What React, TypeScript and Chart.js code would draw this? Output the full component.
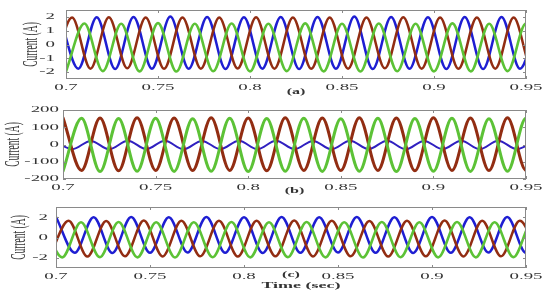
import { useEffect, useRef } from 'react';
import { Chart, registerables } from 'chart.js';

Chart.register(...registerables);

// ---------- data ----------
const xTicks = [0.7, 0.75, 0.8, 0.85, 0.9, 0.95];
const yTicksA = [-2, -1, 0, 1, 2];
const yTicksB = [-200, -100, 0, 100, 200];
const yTicksC = [-2, 0, 2];

// times (s) of successive extrema of the three phases (panels a and c)
const extremaTimes = [
  0.6933, 0.6967, 0.7000, 0.7033, 0.7067, 0.7100, 0.7133, 0.7167, 0.7200, 0.7233, 0.7267,
  0.7300, 0.7333, 0.7367, 0.7400, 0.7433, 0.7467, 0.7500, 0.7533, 0.7567, 0.7600,
  0.7633, 0.7667, 0.7700, 0.7733, 0.7767, 0.7800, 0.7833, 0.7867, 0.7900, 0.7933,
  0.7967, 0.8000, 0.8033, 0.8067, 0.8100, 0.8133, 0.8167, 0.8200, 0.8233, 0.8267,
  0.8300, 0.8333, 0.8367, 0.8400, 0.8433, 0.8467, 0.8500, 0.8533, 0.8567, 0.8600,
  0.8633, 0.8667, 0.8700, 0.8733, 0.8767, 0.8800, 0.8833, 0.8867, 0.8900, 0.8933,
  0.8967, 0.9000, 0.9033, 0.9067, 0.9100, 0.9133, 0.9167, 0.9200, 0.9233, 0.9267,
  0.9300, 0.9333, 0.9367, 0.9400, 0.9433, 0.9467, 0.9500, 0.9533, 0.9567, 0.9600,
  0.9633,
];

// times (s) of extrema for panel b
const extremaTimesB = [
  0.695, 0.700, 0.705, 0.710, 0.715, 0.720, 0.725, 0.730, 0.735, 0.740,
  0.745, 0.750, 0.755, 0.760, 0.765, 0.770, 0.775, 0.780, 0.785, 0.790,
  0.795, 0.800, 0.805, 0.810, 0.815, 0.820, 0.825, 0.830, 0.835, 0.840,
  0.845, 0.850, 0.855, 0.860, 0.865, 0.870, 0.875, 0.880, 0.885, 0.890,
  0.895, 0.900, 0.905, 0.910, 0.915, 0.920, 0.925, 0.930, 0.935, 0.940,
  0.945, 0.950, 0.955, 0.960,
];

// panel (a) extrema values (A)
const blueA = [
  2.0, -1.75, 1.98, -1.78, 2.0, -1.75, 2.02, -1.76, 2.0, -1.78, 1.98, -1.75, 2.0,
  -1.77, 2.0, -1.75, 2.02, -1.78, 2.0, -1.76, 1.98, -1.78, 2.0, -1.77, 2.0, -1.75, 2.0,
];
const greenA = [
  -1.95, 1.52, -1.93, 1.5, -1.95, 1.55, -1.96, 1.5, -1.94, 1.52, -1.95, 1.5, -1.93,
  1.53, -1.95, 1.5, -1.96, 1.52, -1.94, 1.5, -1.95, 1.53, -1.95, 1.5, -1.93, 1.52, -1.95,
];
const brownA = [
  -1.75, 1.95, -1.75, 1.97, -1.73, 1.95, -1.76, 1.96, -1.75, 1.95, -1.74, 1.97, -1.75, 1.95,
  -1.76, 1.96, -1.75, 1.95, -1.73, 1.97, -1.75, 1.95, -1.76, 1.96, -1.75, 1.95, -1.74, 1.95,
];

// panel (b) extrema values (A)
const blueB = [
  22, -27, 21, -28, 22, -27, 22, -28, 21, -27, 22, -28, 22, -27,
  21, -28, 22, -27, 22, -28, 21, -27, 22, -28, 22, -27, 22,
];
const brownB = [
  155, -150, 154, -152, 155, -150, 153, -151, 155, -150, 154, -152, 155, -150,
  153, -151, 155, -150, 154, -152, 155, -150, 153, -151, 155, -150, 155,
];
const greenB = [
  -155, 152, -157, 151, -155, 152, -156, 150, -155, 152, -157, 151, -155, 152,
  -156, 150, -155, 152, -157, 151, -155, 152, -156, 150, -155, 152, -155,
];

// panel (c) extrema values (A)
const brownC = [
  -1.85, 1.65, -1.87, 1.63, -1.85, 1.66, -1.86, 1.65, -1.85, 1.64, -1.87, 1.65, -1.85,
  1.66, -1.86, 1.65, -1.85, 1.63, -1.87, 1.65, -1.85, 1.66, -1.86, 1.65, -1.85, 1.64, -1.85,
];
const blueC = [
  2.02, -1.5, 2.0, -1.52, 2.02, -1.5, 2.0, -1.48, 2.02, -1.5, 2.0, -1.52, 2.02,
  -1.5, 2.0, -1.48, 2.02, -1.5, 2.0, -1.52, 2.02, -1.5, 2.0, -1.48, 2.02, -1.5, 2.0,
];
const greenC = [
  1.5, -1.95, 1.5, -1.93, 1.52, -1.95, 1.5, -1.96, 1.5, -1.94, 1.52, -1.95, 1.5, -1.93,
  1.52, -1.95, 1.5, -1.96, 1.52, -1.94, 1.5, -1.95, 1.52, -1.95, 1.5, -1.93, 1.52, -1.95,
];

// ---------- styling ----------
const BLUE = '#1e1ed2';
const BROWN = '#922d12';
const GREEN = '#5cc236';
const SX = 2.1;
const TEXT = '#333333';

function pts(times: number[], values: number[], offset: number, step: number) {
  return values.map((y, i) => ({ x: times[offset + step * i], y }));
}

function sText(
  ctx: CanvasRenderingContext2D,
  text: string,
  x: number,
  y: number,
  align: CanvasTextAlign,
  font: string,
  sx: number,
  rotate = false
) {
  ctx.save();
  ctx.translate(x, y);
  ctx.scale(sx, 1);
  if (rotate) ctx.rotate(-Math.PI / 2);
  ctx.font = font;
  ctx.textAlign = align;
  ctx.textBaseline = 'middle';
  ctx.fillStyle = TEXT;
  ctx.fillText(text, 0, 0);
  ctx.restore();
}

const decoPlugin = {
  id: 'panelDeco',
  afterDraw(chart: any, _args: any, o: any) {
    const { ctx, chartArea: a } = chart;
    const xs = chart.scales.x;
    const ys = chart.scales.y;
    ctx.save();
    ctx.strokeStyle = '#8a8a8a';
    ctx.lineWidth = 1;
    ctx.strokeRect(a.left + 0.5, a.top + 0.5, a.width - 1, a.height - 1);
    ctx.beginPath();
    xs.ticks.forEach((t: any) => {
      const px = Math.round(xs.getPixelForValue(t.value)) + 0.5;
      ctx.moveTo(px, a.top);
      ctx.lineTo(px, a.top + 3);
      ctx.moveTo(px, a.bottom);
      ctx.lineTo(px, a.bottom - 3);
    });
    ys.ticks.forEach((t: any) => {
      const py = Math.round(ys.getPixelForValue(t.value)) + 0.5;
      ctx.moveTo(a.left, py);
      ctx.lineTo(a.left + 3, py);
      ctx.moveTo(a.right, py);
      ctx.lineTo(a.right - 3, py);
    });
    ctx.stroke();
    ctx.restore();

    const tickFont = '9px "Liberation Serif"';
    xs.ticks.forEach((t: any) => {
      const px = xs.getPixelForValue(t.value);
      sText(ctx, String(Number(t.value.toFixed(2))), px, a.bottom + o.xTickDy, 'center', tickFont, SX);
    });
    ys.ticks.forEach((t: any) => {
      const py = ys.getPixelForValue(t.value);
      sText(ctx, String(t.value), a.left - o.yTickGap, py, 'right', tickFont, SX);
    });
    sText(ctx, 'Current (A)', o.titleX, (a.top + a.bottom) / 2, 'center', '9.5px "Liberation Serif"', SX, true);
    const cx = (a.left + a.right) / 2;
    sText(ctx, o.panel, cx, a.bottom + o.panelDy, 'center', 'bold 8px "Liberation Serif"', 2.0);
    if (o.timeLabel) {
      sText(ctx, 'Time (sec)', cx + 10, a.bottom + o.timeDy, 'center', 'bold 9px "Liberation Serif"', 2.0);
    }
  },
};

type PanelCfg = {
  pad: { left: number; right: number; top: number; bottom: number };
  yMin: number;
  yMax: number;
  yTicks: number[];
  datasets: any[];
  deco: any;
};

const panels: PanelCfg[] = [
  {
    pad: { left: 66, right: 24, top: 10, bottom: 218 },
    yMin: -2.5,
    yMax: 2.5,
    yTicks: yTicksA,
    datasets: [
      { data: pts(extremaTimes, greenA, 2, 3), borderColor: GREEN, borderWidth: 2.6 },
      { data: pts(extremaTimes, brownA, 0, 3), borderColor: BROWN, borderWidth: 2.5 },
      { data: pts(extremaTimes, blueA, 1, 3), borderColor: BLUE, borderWidth: 2.5 },
    ],
    deco: { xTickDy: 9, yTickGap: 11, titleX: 32, panel: '(a)', panelDy: 13 },
  },
  {
    pad: { left: 63, right: 24, top: 110, bottom: 118 },
    yMin: -200,
    yMax: 200,
    yTicks: yTicksB,
    datasets: [
      { data: pts(extremaTimesB, greenB, 1, 2), borderColor: GREEN, borderWidth: 3 },
      { data: pts(extremaTimesB, brownB, 1, 2), borderColor: BROWN, borderWidth: 3 },
      { data: pts(extremaTimesB, blueB, 0, 2), borderColor: '#3020c0', borderWidth: 2 },
    ],
    deco: { xTickDy: 9, yTickGap: 4, titleX: 14, panel: '(b)', panelDy: 12 },
  },
  {
    pad: { left: 56, right: 24, top: 207, bottom: 29 },
    yMin: -3,
    yMax: 3,
    yTicks: yTicksC,
    datasets: [
      { data: pts(extremaTimes, greenC, 0, 3), borderColor: GREEN, borderWidth: 2.6 },
      { data: pts(extremaTimes, brownC, 1, 3), borderColor: BROWN, borderWidth: 2.5 },
      { data: pts(extremaTimes, blueC, 2, 3), borderColor: BLUE, borderWidth: 2.5 },
    ],
    deco: { xTickDy: 9, yTickGap: 8, titleX: 20, panel: '(c)', panelDy: 7, timeLabel: true, timeDy: 18 },
  },
];

function Panel({ cfg }: { cfg: PanelCfg }) {
  const ref = useRef<HTMLCanvasElement>(null);
  useEffect(() => {
    const chart = new Chart(ref.current as HTMLCanvasElement, {
      type: 'line',
      data: {
        datasets: cfg.datasets.map((d) => ({
          ...d,
          fill: false,
          pointRadius: 0,
          cubicInterpolationMode: 'monotone',
        })),
      },
      options: {
        animation: false,
        responsive: false,
        events: [],
        layout: { padding: cfg.pad },
        elements: {
          point: { radius: 0 },
          line: { capBezierPoints: false, borderCapStyle: 'round', borderJoinStyle: 'round' },
        },
        plugins: {
          legend: { display: false },
          tooltip: { enabled: false },
          panelDeco: cfg.deco,
        } as any,
        scales: {
          x: {
            type: 'linear',
            min: 0.7,
            max: 0.95,
            ticks: { display: false },
            grid: { display: false },
            border: { display: false },
            afterBuildTicks: (s: any) => {
              s.ticks = xTicks.map((v) => ({ value: v }));
            },
            afterFit: (s: any) => {
              s.height = 0;
            },
          },
          y: {
            type: 'linear',
            min: cfg.yMin,
            max: cfg.yMax,
            ticks: { display: false },
            grid: { display: false },
            border: { display: false },
            afterBuildTicks: (s: any) => {
              s.ticks = cfg.yTicks.map((v) => ({ value: v }));
            },
            afterFit: (s: any) => {
              s.width = 0;
            },
          },
        },
      } as any,
      plugins: [decoPlugin],
    });
    return () => chart.destroy();
  }, [cfg]);
  return (
    <canvas
      ref={ref}
      width={550}
      height={297}
      style={{ position: 'absolute', left: 0, top: 0, width: 550, height: 297 }}
    />
  );
}

export default function App() {
  return (
    <div style={{ position: 'absolute', left: 0, top: 0, width: 550, height: 297, background: '#fff' }}>
      {panels.map((p, i) => (
        <Panel key={i} cfg={p} />
      ))}
    </div>
  );
}
